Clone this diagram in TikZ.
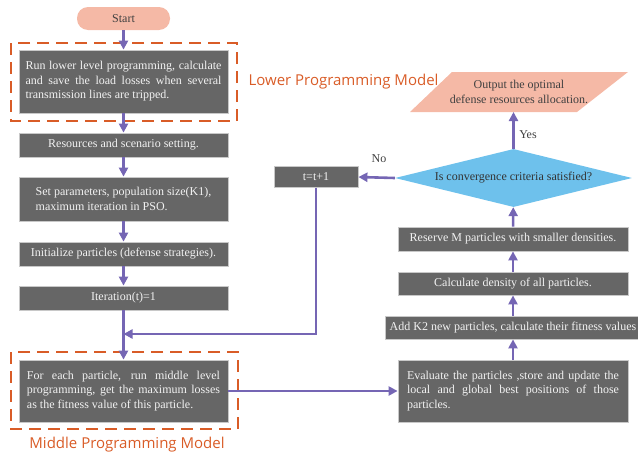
\documentclass[tikz,border=0pt]{standalone}
\usepackage{fontspec}
\setmainfont{Liberation Serif}
\newfontfamily\labfont{Open Sans}
\usetikzlibrary{arrows.meta,shapes.geometric}
\definecolor{boxgray}{HTML}{666666}
\definecolor{boxedge}{HTML}{C8C8C8}
\definecolor{txtw}{HTML}{F2F2F2}
\definecolor{orng}{HTML}{D95C27}
\definecolor{purp}{HTML}{7566B4}
\definecolor{skyb}{HTML}{6EC1EC}
\definecolor{salm}{HTML}{F5B9A6}
\begin{document}
\begin{tikzpicture}[x=1pt,y=-1pt,
  gbox/.style={draw=boxedge,line width=0.8pt,fill=boxgray,text=txtw,inner sep=0pt,
    font=\fontsize{12}{14.5}\selectfont,minimum width=209pt},
  jbox/.style={gbox,text width=196pt,align=justify,minimum width=209pt,
    execute at begin node={\hyphenpenalty=10000\exhyphenpenalty=10000}},
  arr/.style={draw=purp,line width=2.6pt,-{Triangle[length=9pt,width=9pt]}},
  dbox/.style={draw=orng,line width=2pt,dash pattern=on 12pt off 7pt},
  mlabel/.style={text=orng,font=\labfont\fontsize{15}{18}\selectfont},
  plain/.style={font=\fontsize{12}{14.5}\selectfont,text=black!75}
]
\useasboundingbox (0,0) rectangle (638,455);
% start
\node[fill=salm,rounded corners=11pt,minimum width=93pt,minimum height=23pt,
  font=\fontsize{12}{14}\selectfont,text=black!75] (start) at (123.5,18.5) {Start};
% dashed groups
\draw[dbox] (11,43) rectangle (237,121);
\draw[dbox] (11,352) rectangle (238,429);
\node[mlabel,anchor=west] (lpm) at (245,82) {Lower Programming Model};
\node[mlabel] (mpm) at (127,445) {Middle Programming Model};
% left column
\node[jbox,minimum height=63pt] (b1) at (123.5,81.5) {Run lower level programming, calculate\linebreak and save the load losses when several\linebreak transmission lines are tripped.};
\node[gbox,minimum height=24pt] (b2) at (123.5,145) {Resources and scenario setting.};
\node[gbox,minimum height=44pt,align=left] (b3) at (123.5,199) {Set parameters, population size(K1),\\maximum iteration in PSO.};
\node[gbox,minimum height=24pt] (b4) at (123.5,254) {Initialize particles (defense strategies).};
\node[gbox,minimum height=24pt] (b5) at (123.5,298) {Iteration(t)=1};
\node[jbox,minimum height=62pt,text width=193pt] (b6) at (123.5,391) {For each particle, run middle level\linebreak programming, get the maximum losses\linebreak as the fitness value of this particle.};
% t=t+1
\node[gbox,minimum width=84pt,minimum height=21pt] (tt) at (316,177) {t=t+1};
\coordinate (merge) at (123.5,334);
% right column
\node[diamond,fill=skyb,minimum width=237pt,minimum height=58pt,inner sep=0pt,aspect=4,
  font=\fontsize{12}{14}\selectfont,text=black!80] (dia) at (513.5,178) {Is convergence criteria satisfied?};
\fill[salm] (452,72) -- (628,72) -- (577,112) -- (410,112) -- cycle;
\node[plain,align=center] (out) at (519,92) {Output the optimal\\defense resources allocation.};
\coordinate (outb) at (513.5,112);
\node[gbox,minimum width=230pt,minimum height=24pt] (res) at (513,239) {Reserve M particles with smaller densities.};
\node[gbox,minimum width=230pt,minimum height=23pt] (cal) at (513,283.5) {Calculate density of all particles.};
\node[gbox,minimum width=256pt,minimum height=23pt] (add) at (513,327.5) {Add K2 new particles, calculate their fitness values};
\node[jbox,minimum width=230pt,text width=212pt,minimum height=62pt] (ev) at (513,391) {Evaluate the particles ,store and update the\linebreak local and global best positions of those\linebreak particles.};
% connectors
\draw[arr] (start) -- (b1);
\draw[arr] (b1) -- (b2);
\draw[arr] (b2) -- (b3);
\draw[arr] (b3) -- (b4);
\draw[arr] (b4) -- (b5);
\draw[arr] (b5) -- (b6);
\draw[arr] (tt.south) |- (merge);
\draw[arr] (b6.east) -- (ev.west);
\draw[arr] (ev) -- (add);
\draw[arr] (add) -- (cal);
\draw[arr] (cal) -- (res);
\draw[arr] (res) -- (dia);
\draw[arr] (dia.north) -- (outb);
\draw[arr] (dia.west) -- (tt.east);
\node[plain] (yes) at (528,135) {Yes};
\node[plain] (no) at (379,159) {No};
\end{tikzpicture}
\end{document}
